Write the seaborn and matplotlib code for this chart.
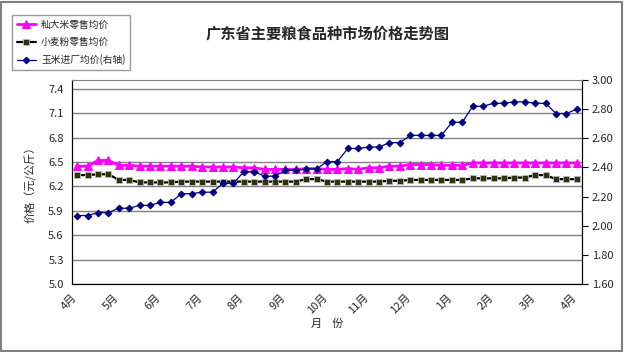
import seaborn as sns
import pandas as pd
import numpy as np
import matplotlib.pyplot as plt
from matplotlib.patches import Rectangle

sns.set_style('white')
plt.rcParams['font.family'] = ['Noto Sans CJK SC', 'DejaVu Sans']
plt.rcParams['axes.unicode_minus'] = False

# weekly prices, Apr -> next Apr
rice = [6.45, 6.45, 6.52, 6.52, 6.46, 6.46, 6.45, 6.45, 6.45, 6.45, 6.45, 6.45,
        6.44, 6.44, 6.44, 6.44, 6.43, 6.43, 6.41, 6.41, 6.41, 6.41, 6.42, 6.42,
        6.41, 6.41, 6.42, 6.41, 6.43, 6.43, 6.45, 6.45, 6.47, 6.47, 6.47, 6.46,
        6.46, 6.46, 6.49, 6.49, 6.49, 6.49, 6.49, 6.49, 6.49, 6.49, 6.49, 6.49, 6.49]
flour = [6.34, 6.34, 6.35, 6.35, 6.28, 6.28, 6.25, 6.25, 6.25, 6.25, 6.26, 6.26,
         6.26, 6.26, 6.26, 6.26, 6.26, 6.26, 6.26, 6.26, 6.26, 6.26, 6.29, 6.29,
         6.26, 6.26, 6.26, 6.26, 6.26, 6.26, 6.27, 6.27, 6.28, 6.28, 6.28, 6.28,
         6.28, 6.28, 6.30, 6.30, 6.30, 6.30, 6.31, 6.31, 6.34, 6.34, 6.29, 6.29, 6.29]
corn = [2.07, 2.07, 2.09, 2.09, 2.12, 2.12, 2.14, 2.14, 2.16, 2.16, 2.22, 2.22,
        2.23, 2.23, 2.29, 2.29, 2.37, 2.37, 2.34, 2.34, 2.38, 2.38, 2.39, 2.39,
        2.44, 2.44, 2.53, 2.53, 2.54, 2.54, 2.57, 2.57, 2.62, 2.62, 2.62, 2.62,
        2.71, 2.71, 2.82, 2.82, 2.84, 2.84, 2.85, 2.85, 2.84, 2.84, 2.77, 2.77, 2.80]
months = ['4月', '5月', '6月', '7月', '8月', '9月', '10月', '11月', '12月',
          '1月', '2月', '3月', '4月']
left_ticks = [5.0, 5.3, 5.6, 5.9, 6.2, 6.5, 6.8, 7.1, 7.4]
right_ticks = [1.60, 1.80, 2.00, 2.20, 2.40, 2.60, 2.80, 3.00]

df = pd.DataFrame({'week': range(len(rice)), 'rice': rice, 'flour': flour, 'corn': corn})
n = len(df)

fig = plt.figure(figsize=(6.24, 3.52), dpi=100)
ax = fig.add_axes([72 / 624, 1 - 284 / 352, 510 / 624, 204 / 352])
ax2 = ax.twinx()

sns.lineplot(data=df, x='week', y='rice', ax=ax, color='#ff00ff', lw=2,
             marker='^', markersize=6, markeredgecolor='#ff00ff', label='籼大米零售均价')
sns.lineplot(data=df, x='week', y='flour', ax=ax, color='black', lw=1.6,
             marker='s', markersize=5, markerfacecolor='#333300',
             markeredgecolor='#b8b8d8', markeredgewidth=0.6, label='小麦粉零售均价')
sns.lineplot(data=df, x='week', y='corn', ax=ax2, color='#000080', lw=0.9,
             marker='D', markersize=3.4, markeredgecolor='#000080', label='玉米进厂均价(右轴)')

ax.set_xlim(-0.5, n - 0.5)
ax.set_ylim(5.0, 7.51)
ax2.set_ylim(1.6, 3.0)
ax.set_yticks(left_ticks)
ax.set_yticklabels([f'{v:.1f}' for v in left_ticks], fontsize=8)
ax2.set_yticks(right_ticks)
ax2.set_yticklabels([f'{v:.2f}' for v in right_ticks], fontsize=8)
ax.set_xticks(np.arange(0, n + 1) - 0.5, minor=True)
ax.set_xticks(np.arange(0, n, 4) - 0.5)
ax.set_xticklabels(months, rotation=45, ha='right', va='top', rotation_mode='anchor', fontsize=8)

ax.grid(axis='y', color='#808080', lw=1)
ax.tick_params(axis='y', length=0, pad=6)
ax.tick_params(axis='x', which='both', direction='in', length=4, color='black', pad=6)
ax2.tick_params(axis='y', direction='out', length=4, color='black', pad=3)
for sp in ['left', 'bottom', 'right']:
    ax2.spines[sp].set_color('black')
ax2.spines['top'].set_color('#808080')
ax.spines['top'].set_visible(False)

ax.set_xlabel('月    份', fontsize=8, labelpad=2)
ax.set_ylabel('价格（元/公斤）', fontsize=8, labelpad=8)
ax2.set_ylabel('')

h1, l1 = ax.get_legend_handles_labels()
h2, l2 = ax2.get_legend_handles_labels()
ax.get_legend().remove()
ax2.get_legend().remove()
fig.legend(h1 + h2, l1 + l2, loc='upper left', bbox_to_anchor=(7 / 624, 1 - 10 / 352),
           fontsize=7, frameon=True, fancybox=False, edgecolor='#808080',
           handlelength=2.0, handletextpad=0.5, labelspacing=0.75, borderpad=0.5)

fig.text(328 / 624, 1 - 33 / 352, '广东省主要粮食品种市场价格走势图', ha='center', va='center',
         fontsize=11, fontweight='bold')
fig.patches.append(Rectangle((0.002, 0.003), 0.994, 0.992, transform=fig.transFigure,
                             fill=False, edgecolor='#808080', lw=1.5))

fig.savefig('out.png', dpi=100)
